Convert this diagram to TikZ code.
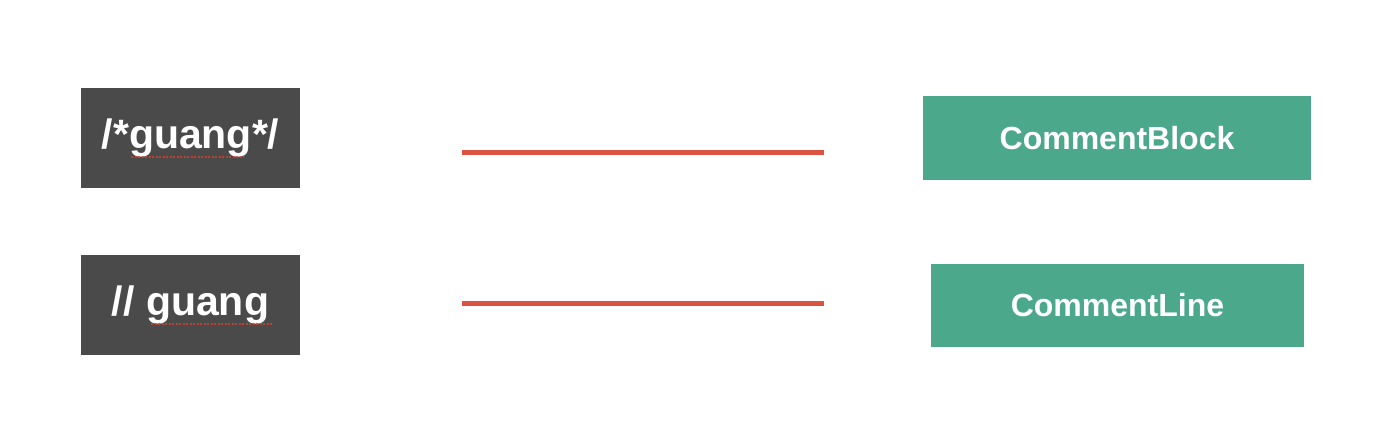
\documentclass[tikz,border=0pt]{standalone}
\usepackage{fontspec}
\setmainfont{Liberation Sans}
\definecolor{darkbox}{HTML}{4A4A4A}
\definecolor{greenbox}{HTML}{4BA88B}
\definecolor{redline}{HTML}{D8402E}
\begin{document}
\begin{tikzpicture}[x=1pt,y=1pt,
  srcbox/.style={fill=darkbox,draw=none,minimum width=219pt,minimum height=100pt,inner sep=0pt,text=white,font=\bfseries\fontsize{41}{46}\selectfont},
  tokbox/.style={fill=greenbox,draw=none,inner sep=0pt,text=white,font=\bfseries\fontsize{32}{37}\selectfont},
  mapline/.style={draw=redline,line width=5pt,opacity=0.9},
  spell/.style={draw=redline,line width=1.3pt,dash pattern=on 2pt off 1.5pt,opacity=0.8}]
\useasboundingbox (0,0) rectangle (1376,434);
\node[srcbox] (s1) at (190.5,296) {/*guang*/};
\node[srcbox] (s2) at (190.5,129) {// guang};
\node[tokbox,minimum width=388pt,minimum height=84pt] (t1) at (1117,296) {CommentBlock};
\node[tokbox,minimum width=373pt,minimum height=83pt] (t2) at (1117.5,128.5) {CommentLine};
\coordinate (l1a) at (462,281);
\coordinate (l1b) at (824,281);
\coordinate (l2a) at (462,130);
\coordinate (l2b) at (824,130);
\draw[mapline] (l1a) -- (l1b);
\draw[mapline] (l2a) -- (l2b);
\coordinate (u1a) at (131,277);
\coordinate (u1b) at (244,277);
\coordinate (u2a) at (151,110);
\coordinate (u2b) at (273,110);
\draw[spell] (u1a) -- (u1b);
\draw[spell] (u2a) -- (u2b);
\end{tikzpicture}
\end{document}
